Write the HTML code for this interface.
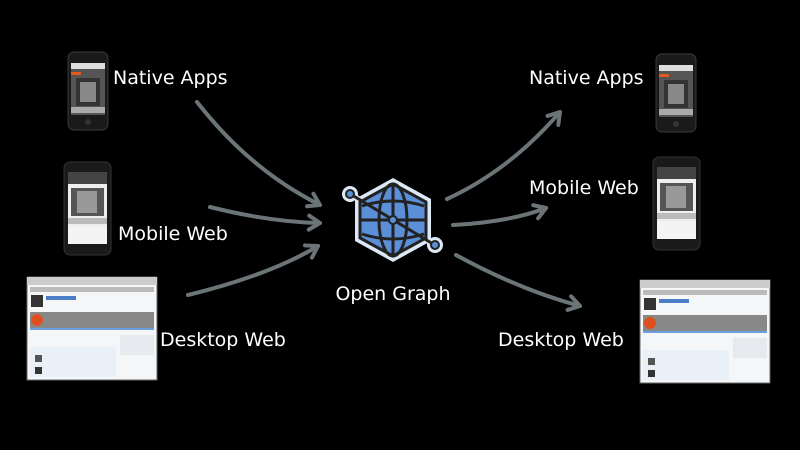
<!DOCTYPE html>
<html><head><meta charset="utf-8"><style>
html,body{margin:0;padding:0;background:#000;width:800px;height:450px;overflow:hidden}
text{font-family:"DejaVu Sans","Liberation Sans",sans-serif;fill:#fff}
</style></head><body>
<svg width="800" height="450" viewBox="0 0 800 450" xmlns="http://www.w3.org/2000/svg">
<defs>
<g id="iphone">
<rect x="0" y="0" width="40" height="78" rx="6" fill="#1a1a1a" stroke="#3a3a3a" stroke-width="1"/>
<rect x="3" y="11" width="34" height="52" fill="#555"/>
<rect x="3" y="11" width="34" height="6" fill="#ddd"/>
<rect x="3" y="20" width="10" height="3" fill="#e05a1e"/>
<rect x="8" y="26" width="24" height="28" fill="#333"/>
<rect x="12" y="30" width="16" height="20" fill="#888"/>
<rect x="3" y="55" width="34" height="6" fill="#aaa"/>
<circle cx="20" cy="70" r="3" fill="#333"/>
</g>
<g id="android">
<rect x="0" y="0" width="47" height="93" rx="6" fill="#1a1a1a" stroke="#333"/>
<rect x="4" y="10" width="39" height="72" fill="#eee"/>
<rect x="4" y="10" width="39" height="12" fill="#444"/>
<rect x="7" y="26" width="33" height="28" fill="#555"/>
<rect x="13" y="29" width="20" height="22" fill="#999"/>
<rect x="4" y="56" width="39" height="6" fill="#bbb"/>
<rect x="4" y="64" width="39" height="18" fill="#f4f4f4"/>
</g>
<g id="desk">
<rect x="0" y="0" width="130" height="103" fill="#f4f6f8" stroke="#666"/>
<rect x="0" y="0" width="130" height="8" fill="#ccc"/>
<rect x="3" y="10" width="124" height="5" fill="#bbb"/>
<rect x="4" y="18" width="12" height="12" fill="#333"/>
<rect x="19" y="19" width="30" height="4" fill="#4a7fc8"/>
<rect x="3" y="35" width="124" height="16" fill="#888"/>
<circle cx="10" cy="43" r="6" fill="#e0501e"/>
<rect x="3" y="51" width="124" height="2" fill="#6aa0e0"/>
<rect x="93" y="58" width="34" height="20" fill="#e6eaef"/>
<rect x="3" y="70" width="86" height="30" fill="#e9f0f8"/>
<rect x="8" y="78" width="7" height="7" fill="#555"/>
<rect x="8" y="90" width="7" height="7" fill="#333"/>
</g>
<g id="arr"><path d="M-11,-7 L0,0 L-11,7" fill="none" stroke="#6b7578" stroke-width="4" stroke-linecap="round" stroke-linejoin="round"/></g>
</defs>

<use href="#iphone" x="68" y="52"/>
<use href="#android" x="64" y="162"/>
<use href="#desk" x="27" y="277"/>
<use href="#iphone" x="656" y="54"/>
<use href="#android" x="653" y="157"/>
<use href="#desk" x="640" y="280"/>

<g fill="none" stroke="#6b7578" stroke-width="4" stroke-linecap="round">
<path d="M197,102 Q250,170 320,205"/>
<path d="M210,207 Q270,222 320,223"/>
<path d="M188,295 Q270,275 318,246"/>
<path d="M447,199 Q510,170 560,112"/>
<path d="M453,225 Q510,222 546,208"/>
<path d="M456,255 Q520,290 580,306"/>
</g>
<use href="#arr" transform="translate(320,205) rotate(27)"/>
<use href="#arr" transform="translate(320,223) rotate(2)"/>
<use href="#arr" transform="translate(318,246) rotate(-30)"/>
<use href="#arr" transform="translate(560,112) rotate(-50)"/>
<use href="#arr" transform="translate(546,208) rotate(-20)"/>
<use href="#arr" transform="translate(580,306) rotate(15)"/>

<!-- logo -->
<g>
<polygon points="393,178 431,199 431,241 393,262 355,241 355,199" fill="#dce8f6"/>
<line x1="350" y1="194" x2="435" y2="245" stroke="#dce8f6" stroke-width="6"/>
<circle cx="350" cy="194" r="8" fill="#dce8f6"/>
<circle cx="435" cy="245" r="8" fill="#dce8f6"/>
<polygon points="393,184 426,202 426,238 393,256 360,238 360,202" fill="#5b8fd8" stroke="#222" stroke-width="3"/>
<g fill="none" stroke="#222" stroke-width="3">
<line x1="393" y1="184" x2="393" y2="256"/>
<line x1="360" y1="220" x2="426" y2="220"/>
<ellipse cx="393" cy="220" rx="14" ry="36"/>
<path d="M362,206 Q393,196 424,206"/>
<path d="M362,234 Q393,244 424,234"/>
<line x1="352" y1="195" x2="433" y2="244"/>
</g>
<circle cx="350" cy="194" r="4" fill="#5b8fd8" stroke="#222" stroke-width="2"/>
<circle cx="435" cy="245" r="4" fill="#5b8fd8" stroke="#222" stroke-width="2"/>
<circle cx="393" cy="220" r="4" fill="#5b8fd8" stroke="#222" stroke-width="2"/>
</g>

<g font-size="19">
<text x="113" y="84">Native Apps</text>
<text x="118" y="240">Mobile Web</text>
<text x="160" y="346">Desktop Web</text>
<text x="529" y="84">Native Apps</text>
<text x="529" y="194">Mobile Web</text>
<text x="498" y="346">Desktop Web</text>
<text x="393" y="300" text-anchor="middle">Open Graph</text>
</g>
</svg>
</body></html>
